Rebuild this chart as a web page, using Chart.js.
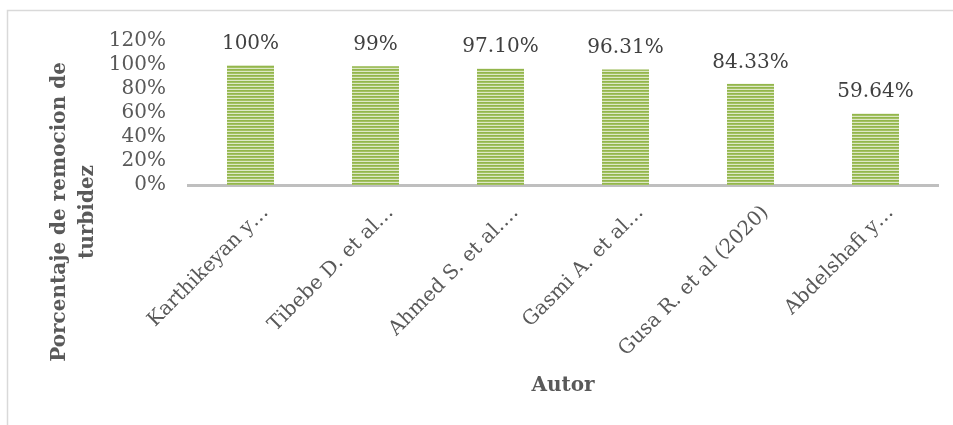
<!DOCTYPE html>
<html>
<head>
<meta charset="utf-8">
<script src="https://cdn.jsdelivr.net/npm/chart.js@4.4.0/dist/chart.umd.min.js"></script>
<style>
  html, body { margin: 0; padding: 0; background: #fff; }
  #wrap { width: 953px; height: 425px; }
</style>
</head>
<body>
<div id="wrap"><canvas id="myChart" width="953" height="425"></canvas></div>
<script>
// removal percentages per author
var autores = ["Karthikeyan y…", "Tibebe D. et al…", "Ahmed S. et al.…", "Gasmi A. et al…", "Gusa R. et al (2020)", "Abdelshafi y…"];
var remocion = [100, 99, 97.10, 96.31, 84.33, 59.64];
var etiquetas = ["100%", "99%", "97.10%", "96.31%", "84.33%", "59.64%"];
var yTicks = [0, 20, 40, 60, 80, 100, 120];
var yTitulo = ["Porcentaje de remocion de", "turbidez"];
var xTitulo = "Autor";

var serif = "'DejaVu Serif', serif";

// striped green fill for the bars
function franjas() {
    var c = document.createElement('canvas');
    c.width = 4; c.height = 3;
    var g = c.getContext('2d');
    g.fillStyle = '#93b64c'; g.fillRect(0, 0, 4, 1);
    g.fillStyle = '#a3c163'; g.fillRect(0, 1, 4, 1);
    g.fillStyle = '#dde8c6'; g.fillRect(0, 2, 4, 1);
    return g.createPattern(c, 'repeat');
}

var marco = {
    id: 'marco',
    beforeDraw: function(chart) {
        var ctx = chart.ctx;
        ctx.save();
        ctx.strokeStyle = '#d9d9d9';
        ctx.lineWidth = 1.5;
        ctx.strokeRect(7.5, 10.5, 980, 440);
        ctx.restore();
    }
};

// value labels on top of each bar
var valores = {
    id: 'valores',
    afterDatasetsDraw: function(chart) {
        var ctx = chart.ctx;
        var meta = chart.getDatasetMeta(0);
        ctx.save();
        ctx.font = "20px " + serif;
        ctx.fillStyle = '#404040';
        ctx.textAlign = 'center';
        ctx.textBaseline = 'alphabetic';
        meta.data.forEach(function(bar, i) {
            ctx.fillText(etiquetas[i], bar.x, bar.y - 16);
        });
        ctx.restore();
    }
};

// rotated y title, centred on the whole frame height
var tituloY = {
    id: 'tituloY',
    afterDraw: function(chart) {
        var ctx = chart.ctx;
        ctx.save();
        ctx.font = "bold 20px " + serif;
        ctx.fillStyle = '#595959';
        ctx.textAlign = 'center';
        ctx.textBaseline = 'middle';
        yTitulo.forEach(function(t, i) {
            ctx.save();
            ctx.translate(60 + i * 28, 212);
            ctx.rotate(-Math.PI / 2);
            ctx.fillText(t, 0, 0);
            ctx.restore();
        });
        ctx.restore();
    }
};

var ctx = document.getElementById("myChart");
var myChart = new Chart(ctx, {
    type: 'bar',
    data: {
        labels: autores,
        datasets: [{
            data: remocion,
            backgroundColor: franjas(),
            borderWidth: 0,
            barPercentage: 0.376,
            categoryPercentage: 1
        }]
    },
    options: {
        responsive: false,
        animation: false,
        layout: { padding: { top: 41, right: 15, left: 0, bottom: 0 } },
        plugins: { legend: { display: false }, tooltip: { enabled: false } },
        scales: {
            x: {
                grid: { display: false, drawTicks: false },
                border: { display: true, color: '#bfbfbf', width: 3 },
                ticks: {
                    autoSkip: false,
                    minRotation: 45,
                    maxRotation: 45,
                    padding: 16,
                    labelOffset: 15,
                    color: '#595959',
                    font: { family: serif, size: 20 }
                },
                title: {
                    display: true,
                    text: xTitulo,
                    color: '#595959',
                    font: { family: serif, size: 20, weight: 'bold', lineHeight: 1.2 },
                    padding: { top: 0, bottom: 27 }
                },
                afterFit: function(scale) { scale.height = 240; }
            },
            y: {
                min: 0,
                max: 120,
                grid: { display: false, drawTicks: false },
                border: { display: false },
                afterBuildTicks: function(scale) {
                    scale.ticks = yTicks.map(function(v) { return { value: v }; });
                },
                ticks: {
                    autoSkip: false,
                    padding: 22,
                    color: '#595959',
                    font: { family: serif, size: 20 },
                    callback: function(v) { return v + '%'; }
                },
                afterFit: function(scale) { scale.width = 188; }
            }
        }
    },
    plugins: [marco, valores, tituloY]
});
</script>
</body>
</html>
